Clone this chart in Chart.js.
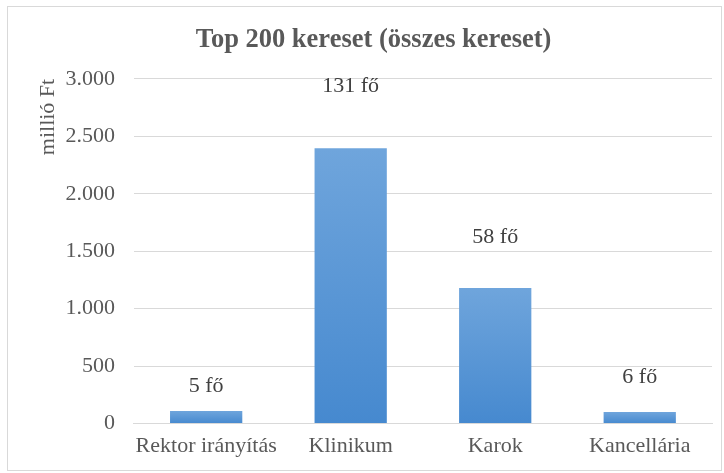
<!DOCTYPE html>
<html>
<head>
<meta charset="utf-8">
<script src="https://cdn.jsdelivr.net/npm/chart.js@4/dist/chart.umd.min.js"></script>
<style>
  body { margin: 0; background: #fff; }
  #box {
    position: absolute; left: 7px; top: 6px;
    width: 715px; height: 465px;
    border: 1px solid #d9d9d9; box-sizing: border-box;
  }
  canvas { display: block; }
</style>
</head>
<body>
<div id="box"><canvas id="chart" width="713" height="463"></canvas></div>
<script>
const categories = ["Rektor irányítás", "Klinikum", "Karok", "Kancellária"];
const earnings = [110, 2395, 1180, 100];   // millió Ft
const headcount = [5, 131, 58, 6];         // fő

const serif = "'Liberation Serif', 'Times New Roman', serif";

function thousands(v) {
  return String(v).replace(/\B(?=(\d{3})+(?!\d))/g, ".");
}

function barFill(ctx) {
  const chart = ctx.chart;
  const y = chart.scales.y;
  if (!y || !chart.chartArea) return "#5b9bd5";
  const top = y.getPixelForValue(ctx.dataset.data[ctx.dataIndex]);
  const base = y.getPixelForValue(0);
  const g = chart.ctx.createLinearGradient(0, top, 0, base);
  g.addColorStop(0, "#6fa5dc");
  g.addColorStop(1, "#4689cf");
  return g;
}

// head count labels above the bars
const headLabels = {
  id: "headLabels",
  afterDatasetsDraw(chart, args, opts) {
    const ctx = chart.ctx;
    const meta = chart.getDatasetMeta(0);
    ctx.save();
    ctx.font = "22px " + serif;
    ctx.fillStyle = "#404040";
    ctx.textAlign = "center";
    ctx.textBaseline = "middle";
    meta.data.forEach((bar, i) => {
      ctx.fillText(headcount[i] + " fő", bar.x, bar.y - opts.offsets[i]);
    });
    ctx.restore();
  }
};

new Chart(document.getElementById("chart"), {
  type: "bar",
  data: {
    labels: categories,
    datasets: [{
      data: earnings,
      backgroundColor: barFill,
      borderWidth: 0,
      categoryPercentage: 0.5,
      barPercentage: 1
    }]
  },
  options: {
    responsive: false,
    animation: false,
    layout: { padding: { left: 27, right: 9, top: 0, bottom: 2 } },
    plugins: {
      legend: { display: false },
      tooltip: { enabled: false },
      title: {
        display: true,
        text: "Top 200 kereset (összes kereset)",
        color: "#595959",
        font: { family: serif, size: 26.5, weight: "bold" },
        padding: { top: 17, bottom: 23 }
      },
      headLabels: { offsets: [25, 62, 51, 35] }
    },
    scales: {
      x: {
        grid: { display: false, drawTicks: false },
        border: { color: "#d9d9d9" },
        ticks: {
          color: "#595959",
          font: { family: serif, size: 22 },
          padding: 9,
          maxRotation: 0,
          minRotation: 0,
          autoSkip: false
        },
        afterFit(scale) {
          scale.paddingLeft = 0;
          scale.paddingRight = 0;
        }
      },
      y: {
        min: 0,
        max: 3000,
        border: { display: false },
        grid: { color: "#d9d9d9", drawTicks: false },
        ticks: {
          stepSize: 500,
          color: "#595959",
          font: { family: serif, size: 22 },
          padding: 19,
          callback: v => thousands(v)
        },
        title: {
          display: true,
          text: "millió Ft",
          align: "end",
          color: "#595959",
          font: { family: serif, size: 22 },
          padding: { top: 0, bottom: 4 }
        },
        // tick padding is counted twice in the width, drop one
        afterFit(scale) {
          scale.width -= scale.options.ticks.padding;
        }
      }
    }
  },
  plugins: [headLabels]
});
</script>
</body>
</html>
